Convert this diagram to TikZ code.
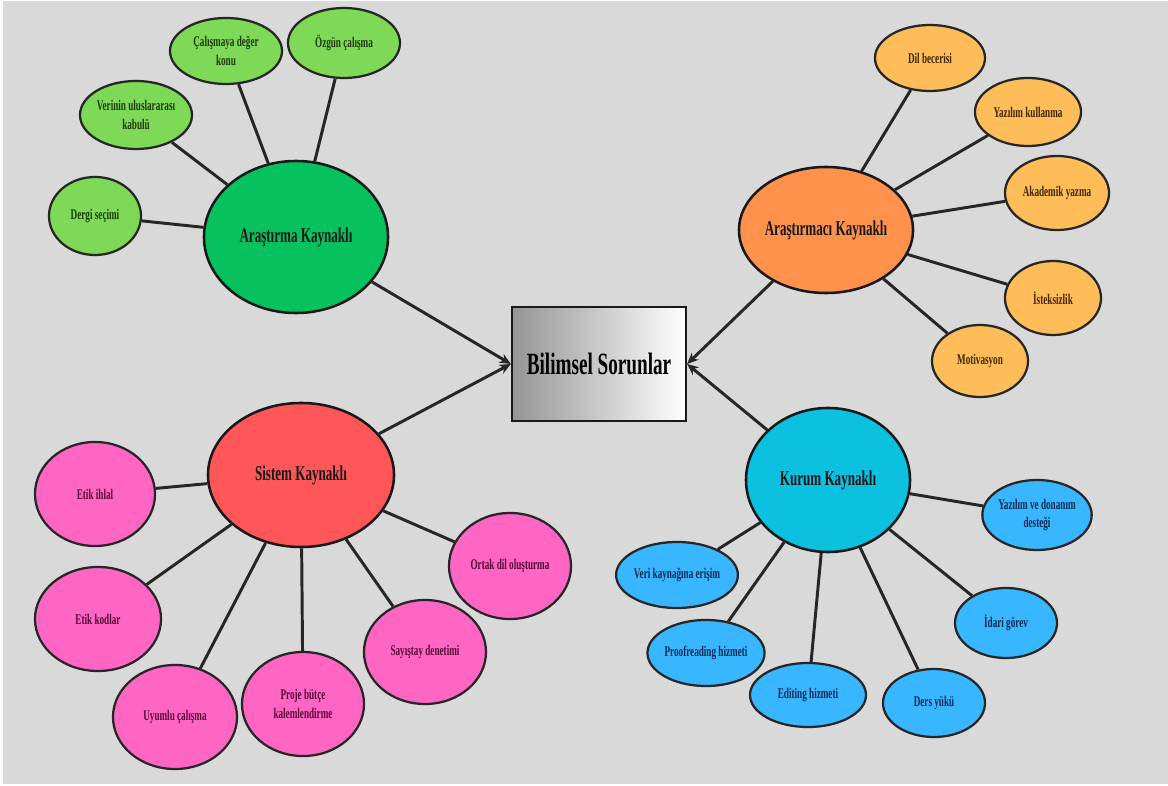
\documentclass[tikz,border=0pt]{standalone}
\usepackage{fontspec}
\setmainfont{Liberation Serif}[FakeStretch=0.62]
\usetikzlibrary{shapes.geometric,arrows.meta}

\definecolor{bgGrey}{HTML}{D9D9D9}
\definecolor{hubGreen}{HTML}{05C25E}
\definecolor{leafGreen}{HTML}{7ED957}
\definecolor{txtGreen}{HTML}{1C3A0E}
\definecolor{hubOrange}{HTML}{FE914B}
\definecolor{leafOrange}{HTML}{FFBD59}
\definecolor{txtOrange}{HTML}{3F2500}
\definecolor{hubCyan}{HTML}{0CC0DF}
\definecolor{leafBlue}{HTML}{38B6FF}
\definecolor{txtBlue}{HTML}{0B2A52}
\definecolor{hubRed}{HTML}{FF5757}
\definecolor{leafPink}{HTML}{FF66C4}
\definecolor{txtPink}{HTML}{560A38}
\definecolor{boxDark}{HTML}{959595}

\begin{document}
\begin{tikzpicture}[x=0.025cm,y=-0.025cm,
	sz/.style 2 args={minimum width=#1cm,minimum height=#2cm},
	leaf/.style={ellipse,draw=black!85,line width=1.6pt,inner sep=0pt,align=center,font=\fontsize{10.5}{13.5}\selectfont\bfseries},
	hub/.style={ellipse,draw=black!90,line width=1.8pt,inner sep=0pt,align=center,text=black!90,font=\fontsize{15}{17}\selectfont\bfseries},
	greenleaf/.style={leaf,fill=leafGreen,text=txtGreen},
	orangeleaf/.style={leaf,fill=leafOrange,text=txtOrange},
	blueleaf/.style={leaf,fill=leafBlue,text=txtBlue},
	pinkleaf/.style={leaf,fill=leafPink,text=txtPink},
	link/.style={line width=2.1pt,black!85},
	toprob/.style={link,-{Stealth[length=8pt,width=7pt]}}
	]
	\useasboundingbox (0,0) rectangle (1168,786);
	\fill[bgGrey] (3,1) rectangle (1168,784);

	% centre
	\node[draw=black!90,line width=1.6pt,left color=boxDark,right color=white,sz={4.35}{2.85},font=\fontsize{22}{24}\selectfont\bfseries] (sorun) at (599,364) {Bilimsel Sorunlar};

	% hubs
	\node[hub,fill=hubGreen,sz={4.6}{3.8}] (arastirma) at (296,237) {Araştırma Kaynaklı};
	\node[hub,fill=hubOrange,sz={4.35}{3.15}] (arastirmaci) at (826,230) {Araştırmacı Kaynaklı};
	\node[hub,fill=hubCyan,sz={4.1}{3.6}] (kurum) at (828,480) {Kurum Kaynaklı};
	\node[hub,fill=hubRed,sz={4.65}{3.6}] (sistem) at (301,475) {Sistem Kaynaklı};

	% green leaves
	\node[greenleaf,sz={2.3}{1.95}] (dergi) at (95,216) {Dergi seçimi};
	\node[greenleaf,sz={2.8}{1.7}] (verinin) at (136,115) {Verinin uluslararası\\kabulü};
	\node[greenleaf,sz={2.8}{1.65}] (calismaya) at (226,51) {Çalışmaya değer\\konu};
	\node[greenleaf,sz={2.8}{1.75}] (ozgun) at (344,43) {Özgün çalışma};

	% orange leaves
	\node[orangeleaf,sz={2.75}{1.65}] (dil) at (930,58) {Dil becerisi};
	\node[orangeleaf,sz={2.65}{1.7}] (yazilim) at (1028,112) {Yazılım kullanma};
	\node[orangeleaf,sz={2.6}{1.85}] (akademik) at (1057,193) {Akademik yazma};
	\node[orangeleaf,sz={2.4}{1.85}] (isteksiz) at (1053,298) {İsteksizlik};
	\node[orangeleaf,sz={2.4}{1.8}] (motiv) at (980,361) {Motivasyon};

	% blue leaves
	\node[blueleaf,sz={2.55}{1.75}] (yazdon) at (1037,515) {Yazılım ve donanım\\desteği};
	\node[blueleaf,sz={2.55}{1.75}] (idari) at (1006,623) {İdari görev};
	\node[blueleaf,sz={2.55}{1.7}] (ders) at (934,703) {Ders yükü};
	\node[blueleaf,sz={2.9}{1.6}] (editing) at (808,695) {Editing hizmeti};
	\node[blueleaf,sz={2.9}{1.65}] (proof) at (706,653) {Proofreading hizmeti};
	\node[blueleaf,sz={2.9}{1.65}] (veri) at (677,575) {Veri kaynağına erişim};

	% pink leaves
	\node[pinkleaf,sz={3.0}{2.6}] (etikih) at (95,494) {Etik ihlal};
	\node[pinkleaf,sz={3.15}{2.6}] (etikkod) at (98,619) {Etik kodlar};
	\node[pinkleaf,sz={3.1}{2.6}] (uyumlu) at (175,717) {Uyumlu çalışma};
	\node[pinkleaf,sz={3.05}{2.6}] (proje) at (303,704) {Proje bütçe\\kalemlendirme};
	\node[pinkleaf,sz={3.05}{2.6}] (sayistay) at (425,652) {Sayıştay denetimi};
	\node[pinkleaf,sz={3.05}{2.65}] (ortak) at (510,566) {Ortak dil oluşturma};

	% arrows to the centre
	\draw[toprob] (arastirma) -- (sorun.west);
	\draw[toprob] (sistem) -- (sorun.west);
	\draw[toprob] (arastirmaci) -- (sorun.east);
	\draw[toprob] (kurum) -- (sorun.east);

	% spokes
	\foreach \l in {dergi,verinin,calismaya,ozgun}
		\draw[link] (arastirma) -- (\l);
	\foreach \l in {dil,yazilim,akademik,isteksiz,motiv}
		\draw[link] (arastirmaci) -- (\l);
	\foreach \l in {yazdon,idari,ders,editing,proof,veri}
		\draw[link] (kurum) -- (\l);
	\foreach \l in {etikih,etikkod,uyumlu,proje,sayistay,ortak}
		\draw[link] (sistem) -- (\l);
\end{tikzpicture}
\end{document}
